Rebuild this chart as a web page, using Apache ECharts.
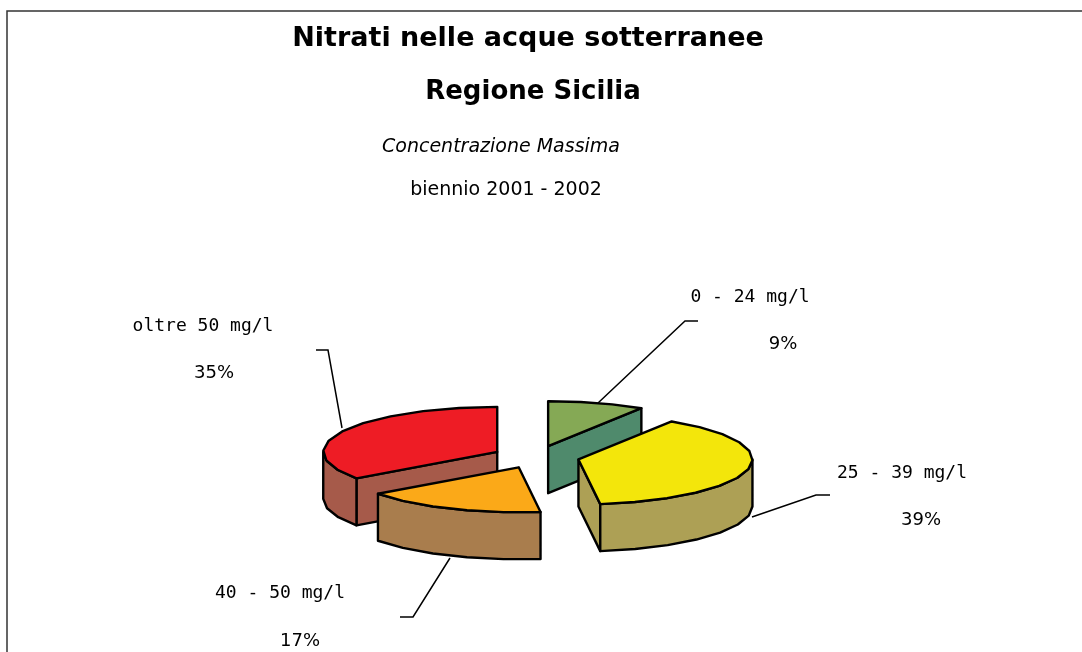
<!DOCTYPE html>
<html><head><meta charset="utf-8">
<style>html,body{margin:0;padding:0;background:#fff}#c{width:1082px;height:652px}</style>
<script src="https://cdn.jsdelivr.net/npm/echarts@6/dist/echarts.min.js"></script>
</head><body><div id="c"></div>
<script>
// Data
const categories = ['0 - 24 mg/l', '25 - 39 mg/l', '40 - 50 mg/l', 'oltre 50 mg/l'];
const values = [9, 39, 17, 35];
const topColors = ['#85A955', '#F3E60B', '#FBA918', '#EE1C25'];
const wallColors = ['#4F8A6C', '#ADA055', '#A97D4D', '#A65A4A'];

// 3D projection of the exploded pie
const CX = 536, CY = 457, RX = 174, RY = 45, DEPTH = 47, EXPLODE = 0.25, ARC_STEP = 0.22;
// Leader lines and label anchors (layout only)
const leaders = [
  [[598, 403], [685, 321], [698, 321]],
  [[752, 517], [816, 495], [830, 495]],
  [[450, 558], [413, 617], [400, 617]],
  [[342, 428], [328, 350], [316, 350]]
];
const labelAt = [[750, 297], [902, 473], [280, 593], [203, 326]];
const pctAt = [[783, 344], [921, 520], [300, 641], [214, 373]];

const total = values.reduce((a, b) => a + b, 0);
const STROKE = { stroke: '#000', lineWidth: 2.4, lineJoin: 'round' };

function renderItem(params, api) {
  const i = params.dataIndex;
  const value = api.value(0);
  let before = 0;
  for (let k = 0; k < i; k++) before += values[k];
  const a0 = before / total * 2 * Math.PI;
  const a1 = (before + value) / total * 2 * Math.PI;
  const mid = (a0 + a1) / 2;
  const ax = CX + Math.sin(mid) * RX * EXPLODE;
  const ay = CY - Math.cos(mid) * RY * EXPLODE;
  const at = a => [ax + Math.sin(a) * RX, ay - Math.cos(a) * RY];
  const down = p => [p[0], p[1] + DEPTH];
  const arc = (s, e) => {
    const pts = [], n = Math.max(2, Math.ceil((e - s) / ARC_STEP));
    for (let k = 0; k <= n; k++) pts.push(at(s + (e - s) * k / n));
    return pts;
  };
  const z = Math.round(ay) * 10;
  const children = [];
  const poly = (points, fill, dz) => children.push({
    type: 'polygon', z2: z + dz, shape: { points },
    style: Object.assign({ fill }, STROKE), silent: true
  });
  const apex = [ax, ay];
  // cut faces turned towards the viewer
  if (Math.sin(a0) < -1e-6) poly([apex, at(a0), down(at(a0)), down(apex)], wallColors[i], 0);
  if (Math.sin(a1) > 1e-6) poly([apex, at(a1), down(at(a1)), down(apex)], wallColors[i], 0);
  // outer rim on the near half of the ellipse
  const s = Math.max(a0, Math.PI / 2), e = Math.min(a1, Math.PI * 1.5);
  if (e > s) {
    const rim = arc(s, e);
    poly(rim.concat(rim.slice().reverse().map(down)), wallColors[i], 1);
  }
  // top face
  poly([apex].concat(arc(a0, a1)), topColors[i], 2);
  // leader line and labels
  children.push({
    type: 'polyline', z2: 1, shape: { points: leaders[i] },
    style: { stroke: '#000', lineWidth: 1.5, fill: null }, silent: true
  });
  children.push({
    type: 'text', z2: 1, x: labelAt[i][0], y: labelAt[i][1],
    style: { text: categories[i], fill: '#000', align: 'center', verticalAlign: 'middle',
      font: '18px "DejaVu Sans Mono"' }
  });
  children.push({
    type: 'text', z2: 1, x: pctAt[i][0], y: pctAt[i][1],
    style: { text: value + '%', fill: '#000', align: 'center', verticalAlign: 'middle',
      font: '18px "DejaVu Sans"' }
  });
  return { type: 'group', children };
}

const titleTexts = ['Nitrati nelle acque sotterranee', 'Regione Sicilia', 'Concentrazione Massima', 'biennio 2001 - 2002'];
const chart = echarts.init(document.getElementById('c'), null, { renderer: 'canvas' });
chart.setOption({
  animation: false,
  backgroundColor: '#fff',
  title: [
    { text: titleTexts[0], left: 523, top: 20, textAlign: 'center', textStyle: { fontFamily: 'DejaVu Sans', fontSize: 27, fontWeight: 'bold', color: '#000' } },
    { text: titleTexts[1], left: 528, top: 74, textAlign: 'center', textStyle: { fontFamily: 'DejaVu Sans', fontSize: 26, fontWeight: 'bold', color: '#000' } },
    { text: titleTexts[2], left: 496, top: 133, textAlign: 'center', textStyle: { fontFamily: 'DejaVu Sans', fontSize: 19, fontStyle: 'italic', fontWeight: 'normal', color: '#000' } },
    { text: titleTexts[3], left: 501, top: 176, textAlign: 'center', textStyle: { fontFamily: 'DejaVu Sans', fontSize: 19, fontWeight: 'normal', color: '#000' } }
  ],
  graphic: [{
    type: 'polyline', silent: true,
    shape: { points: [[7, 652], [7, 11], [1082, 11]] },
    style: { stroke: '#333', lineWidth: 1.5, fill: null }
  }],
  series: [{
    type: 'custom', coordinateSystem: 'none', silent: true, clip: false,
    renderItem, data: values
  }]
});
</script></body></html>
